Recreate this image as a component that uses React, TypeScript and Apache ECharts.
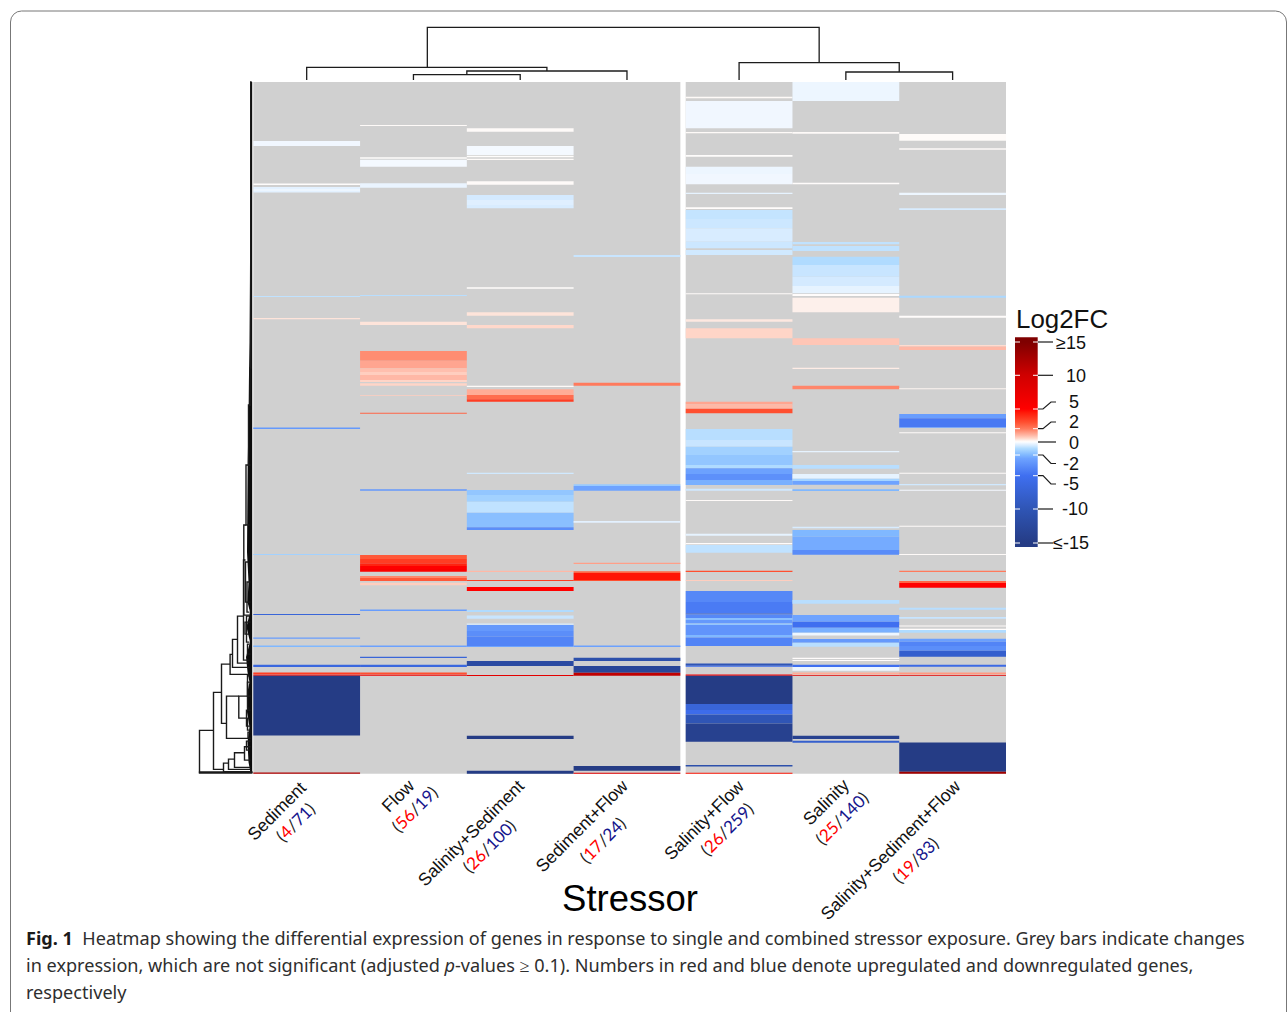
import React, { useEffect, useRef } from "react";
import * as echarts from "echarts";

// ---------- Data ----------
const stressors = ["Sediment", "Flow", "Salinity+Sediment", "Sediment+Flow", "Salinity+Flow", "Salinity", "Salinity+Sediment+Flow"];
const upCounts = [4, 56, 26, 17, 26, 25, 19];
const downCounts = [71, 19, 100, 24, 259, 140, 83];
const rowCount = 691.6;
const gapAfterFourth = 0.05;

// bands: [first gene row, last gene row, Log2FC]
const sediment = [[59,64,-0.15],[101.5,103,0.06],[105,107,-0.35],[107,109,-0.2],[109,110.5,-0.35],[214,215,-0.8],[236,237.2,0.4],[345.5,347,-3],[472,473,-1.3],[532,533,-7],[555.5,556.7,-2.8],[563.5,565,-2],[582.7,585,-6.5],[590.3,592.3,3.5],[592.7,593.7,7],[593.7,653.3,-15],[690.3,691.6,12]];
const flow = [[43,44,0.1],[75.3,76.7,0.06],[77.7,84.7,-0.1],[101.3,105.7,-0.25],[213,214,-0.9],[239.7,243,0.4],[269,278.7,1.7],[278.7,286.3,1.3],[286.3,290,0.9],[290,293,0.7],[293,298,1],[298,300,0.6],[301.3,303.7,0.6],[313,313.7,0.7],[330.7,331.7,2.5],[407.3,408.7,-3],[473,477,2.8],[477,481.3,3.5],[481.3,484,4.2],[484,487,5],[487,489.7,5.5],[494,496,1.8],[496,499,2.8],[500.7,503.3,0.7],[527.3,529,-2.8],[563.5,565,-2.6],[574.7,576,-7],[582.7,585,-6.5],[590.3,592.3,3],[592.7,593.7,7]];
const salinitySediment = [[46.3,49.7,0.1],[64,73,-0.1],[73.7,75.3,0.04],[76.7,78,0.08],[99.3,102.7,0.1],[113,118,-0.55],[118,123,-0.4],[123,126.3,-0.5],[205.3,206.7,0.05],[230.3,233.7,0.4],[243,246.3,0.55],[303.7,305,0.1],[307.3,313,1.2],[313,317.3,2.3],[317.3,319.7,3.5],[390.7,392,-0.6],[408,413,-1.6],[413,419.7,-1.3],[419.7,430.7,-0.8],[430.7,445.3,-1.8],[445.3,448,-3.5],[488.7,490,1],[498,499,3.5],[505,509,5],[528,530,-1],[533.3,536.7,-0.7],[541.3,542.7,-0.5],[543,549,-3],[549,554.7,-3.5],[554.7,564,-4],[564,565,-2.5],[579,584,-12],[593,594,8],[653.7,657,-15],[688.7,691.6,-15]];
const sedimentFlow = [[173,175,-0.7],[300.7,303.7,2],[402.3,404,-1.5],[404,408.7,-2.5],[439,440.7,-0.35],[480.7,482,1.4],[489.3,491,2.5],[491,498.7,4.6],[498,499,3],[563.5,565,-2.6],[575.7,579,-11],[584,590.7,-13],[590.7,593.7,11],[684,688.7,-15],[690.7,691.6,8]];
const salinityFlow = [[14.7,16.3,0.1],[19,46.3,-0.15],[50,51.3,0.1],[73,74.7,0.06],[84.7,92,-0.2],[92,102.3,-0.15],[110.7,112,-0.3],[125.3,127,0.05],[128,137,-0.75],[137,146.3,-0.65],[146.3,159.7,-0.5],[159.7,166.3,-0.65],[168,173,-0.6],[211.3,212.3,0.1],[237.3,239.7,0.35],[246.3,256.3,0.6],[319.7,322.3,1.3],[322.3,326.7,1],[326.7,331.3,3],[347,358,-0.9],[358,364.7,-0.7],[364.7,373,-1.3],[373,383,-1.6],[383,386.3,-1],[386.3,392,-2.6],[392,398,-3.4],[398,403,-2.2],[406.7,408.7,-0.6],[418,419,0.1],[451.7,453.7,-0.3],[461,462.3,0.05],[463,470.7,-0.8],[488.7,490,3],[498,499,0.7],[509,520,-3.8],[520,531.3,-4.4],[531.3,532.3,-9],[532.3,536,-3.8],[536,538,-1.8],[538,541.3,-3],[541.3,543,-1.6],[543,553,-3.2],[553,555.3,-2],[555.3,564,-4],[581.3,583.7,-10],[583.7,584.7,-5],[592.3,593.7,6],[593.7,622,-15],[622,628,-7],[628,632.3,-5.5],[632.3,641.3,-10],[641.3,659.7,-14],[683,684.3,-11],[690.7,691.6,4.5]];
const salinity = [[0,19,-0.2],[50,51.7,0.1],[100.7,102.3,0.05],[160,162.3,-0.8],[164,169,-0.8],[174.7,183,-1],[183,194.7,-0.7],[194.7,204,-0.55],[204,211.3,-0.3],[212,214,0.05],[215.7,230.3,0.25],[256.3,263,0.8],[285.7,287,0.3],[303.7,307.3,1.8],[369,370.3,-0.3],[383,386.7,-0.9],[392,396.7,-0.3],[396.7,399,-1.2],[399,402.7,-2.5],[407.3,409,-2],[444.7,446.3,-0.5],[448,454.7,-2],[454.7,468,-2.3],[468,472.7,-3.6],[518,521.7,-0.9],[533,539.7,-2.5],[539.7,545.7,-5],[545.7,550.7,-2.2],[550.7,553.3,-0.2],[557,560.7,-3],[560.7,564.7,-0.9],[575.7,577,0.05],[578,579,0.05],[582.7,585,-5],[585,588.7,-0.2],[590.3,592.3,1.2],[593,593.7,8],[653.7,657,-14],[658.7,660.7,-8]];
const salinitySedimentFlow = [[52,58.7,0.08],[66.3,67.7,0.1],[110.7,113,-0.2],[126.3,128,-0.5],[213.7,215.7,-1.1],[233.7,235.7,0.05],[263,264.5,0.5],[264.5,268,1],[306.3,307.3,0.2],[332,336.3,-2.8],[336.3,345.3,-4.5],[345.3,346,-2.5],[350.3,351.3,0.1],[390.7,391.7,0.1],[402,403.3,-0.6],[407.7,408.7,-0.1],[443.7,444.7,0.1],[472,473,0.1],[488.7,490,2],[499,501,2.5],[501,505.7,5],[525.7,527.7,-0.9],[535,536.7,-0.7],[543.3,544.3,0.1],[546.7,548,0.05],[548,550.7,-1],[556.7,559.7,-2.7],[559.7,564,-4],[564,568.7,-3.5],[568.7,574.7,-8],[582.7,584.7,-6],[590.3,592.3,1.5],[593,593.7,8],[660.3,689.7,-15],[689.7,691.6,13]];
const columnBands = [sediment, flow, salinitySediment, sedimentFlow, salinityFlow, salinity, salinitySedimentFlow];
const notSignificantColor = "#d0d0d0";
// blocks of adjacent columns that share one grey ground: [first column, column count]
const columnBlocks = [[0, 4], [4, 3]];

// Log2FC colour scale
const scaleValues = [-15,-10,-5,-2.5,-2,-1,-0.5,-0.1,0,0.2,0.5,1,2,3,4.5,5,10,15];
const scaleColors = ["#253c85","#2f55b5","#3f6ff0","#6ea3ff","#80b8ff","#b0dbff","#d8ecff","#f4f9ff","#ffffff","#fdf4f0","#ffdccf","#ffb8a6","#ff7a5c","#ff4f30","#ff1808","#ff0000","#d00000","#7f0000"];

// Legend ticks
const legendTickValues = [15,10,5,2,0,-2,-5,-10,-15];
const legendTickLabels = ["≥15","10","5","2","0","-2","-5","-10","≤-15"];
const legendTickY = [342,375.3,409,428.7,442,455,475.7,509,543];
const legendLabelX = [1071,1076,1074,1074,1074,1071,1071,1075,1071];
const legendLabelY = [342.5,376,402,422,443,463.5,484,509,543];

// Column dendrogram: [left x, left height, right x, right height, join height]
const columnTree = [
  [1.5,0,2.5,0,5.3],[2,5.3,3.5,0,9],[0.5,0,2.75,9,12.7],
  [5.55,0,6.55,0,8],[4.55,0,6.05,8,17.3],[1.63,12.7,5.3,17.3,52.7],
];
// Row dendrogram: [top row, top depth, bottom row, bottom depth, join depth]
const rowTree = [
  [648.3,39,690,0,53],[610.3,31,687.3,29,39],[582,22.4,641.3,26,31],[572.3,20,592.3,4,22.4],[557.3,15,585.3,3,20],
  [534,9,581,4,15],[478,7,578,3,9],[443,6.5,533,3,8.7],[383,4,443,3,6.5],[323,2.5,383,2,4],[286,1.8,323,1.5,2.5],[0,0.8,286,1,1.8],
  [614,13.7,656.3,2,26],[614,5,636,6,13.7],[681,24,689.7,1,29],[677,18,687.3,2,24],[670.7,8,685.3,2,18],[664.7,2,678,2,8],
  [480,4,520,2,7],[534,3,560,3,6],[562,3,572,2,5],[593.7,3,614,2,5],[636,3,648,2,5],[650,2,656,2,4.5],[600,2,626,3,5],[628,2,644,2,6],
  [540,2,552,3,7.5],[500,2,530,3,5.5],[690,0,691,0,53],[659,2,668,3,6],
];
// Dense fringe of leaf joins: [row, depth]
const rowFringe = [[0,2],[120,2.2],[200,2.6],[260,3],[300,3.6],[340,4],[380,4.8],[430,5.2],[470,5.5],[500,4],[520,5],[530,2.5],[545,6],[560,2.5],[575,6.5],[590,5],[600,3],[610,5],[630,5.5],[645,3],[660,5],[680,4],[691,2]];

const captionLines = [
  "{b|Fig. 1}  Heatmap showing the differential expression of genes in response to single and combined stressor exposure. Grey bars indicate changes",
  "in expression, which are not significant (adjusted {i|p}-values ≥ 0.1). Numbers in red and blue denote upregulated and downregulated genes,",
  "respectively",
];

// ---------- Layout ----------
const nameCentres = [[276.7,811],[398,796],[471,833],[581.7,826],[704,820],[826,802],[890.5,850]];
const countCentres = [[295.3,822],[414.5,809],[489,846],[602.5,840],[726.7,829],[841.7,818],[915.3,860]];
const HEAT = { left: 253.3, top: 82, width: 752.7, height: 691.7 };

function hexToRgb(h: string) {
  return [parseInt(h.slice(1, 3), 16), parseInt(h.slice(3, 5), 16), parseInt(h.slice(5, 7), 16)];
}
function colourFor(v: number) {
  const x = Math.max(-15, Math.min(15, v));
  for (let i = 0; i < scaleValues.length - 1; i++) {
    if (x <= scaleValues[i + 1]) {
      const t = (x - scaleValues[i]) / (scaleValues[i + 1] - scaleValues[i]);
      const a = hexToRgb(scaleColors[i]);
      const b = hexToRgb(scaleColors[i + 1]);
      return `rgb(${a.map((c, k) => Math.round(c + (b[k] - c) * t)).join(",")})`;
    }
  }
  return scaleColors[scaleColors.length - 1];
}
function legendY(v: number) {
  for (let i = 0; i < legendTickValues.length - 1; i++) {
    const a = legendTickValues[i];
    const b = legendTickValues[i + 1];
    if (v <= a && v >= b) return legendTickY[i] + ((a - v) / (a - b)) * (legendTickY[i + 1] - legendTickY[i]);
  }
  return 442;
}
const colLeft = (i: number) => (i < 4 ? i : i + gapAfterFourth);

const BAR = { x: 1015, y: 337.3, w: 22.7, h: 209.7 };

function buildGraphics() {
  const g: any[] = [];
  // card outline
  g.push({ type: "rect", z: 0, shape: { x: 10.5, y: 11, width: 1276, height: 1030, r: 11 }, style: { fill: "none", stroke: "#777", lineWidth: 1 } });

  // colour bar
  const stops = scaleValues.map((v, i) => ({ offset: Math.min(1, Math.max(0, (legendY(v) - BAR.y) / BAR.h)), color: scaleColors[i] })).reverse();
  g.push({ type: "rect", shape: { x: BAR.x, y: BAR.y, width: BAR.w, height: BAR.h }, style: { fill: new echarts.graphic.LinearGradient(0, 0, 0, 1, stops) } });
  legendTickValues.forEach((v, i) => {
    const y = legendTickY[i];
    if (v !== 0) {
      g.push({ type: "line", shape: { x1: BAR.x, y1: y, x2: BAR.x + 5, y2: y }, style: { stroke: "#fff", lineWidth: 1 } });
      g.push({ type: "line", shape: { x1: BAR.x + 18, y1: y, x2: BAR.x + 23, y2: y }, style: { stroke: "#fff", lineWidth: 1 } });
    }
    const ly = legendLabelY[i];
    const bend = Math.abs(v) === 2 || Math.abs(v) === 5;
    const pts = bend
      ? [[1038, y], [1043, y], [1051, ly], [1056, ly]]
      : [[1038, y], [v === 0 ? 1056 : 1053, y]];
    g.push({ type: "polyline", shape: { points: pts }, style: { stroke: "#1c1c1c", lineWidth: 1.2, fill: "none" } });
    g.push({
      type: "text", x: legendLabelX[i], y: ly,
      style: { text: legendTickLabels[i], fill: "#111", font: '18px "Liberation Sans"', align: "center", verticalAlign: "middle" },
    });
  });
  g.push({ type: "text", x: 1016, y: 319, style: { text: "Log2FC", fill: "#111", font: '25.9px "Liberation Sans"', align: "left", verticalAlign: "middle" } });
  g.push({ type: "text", x: 630, y: 898.3, style: { text: "Stressor", fill: "#000", font: '36.5px "Liberation Sans"', align: "center", verticalAlign: "middle" } });

  // column labels
  stressors.forEach((s, i) => {
    g.push({
      type: "text", x: nameCentres[i][0], y: nameCentres[i][1], rotation: Math.PI / 4,
      style: { text: s, fill: "#111", font: '17.6px "Liberation Sans"', align: "center", verticalAlign: "middle" },
    });
    g.push({
      type: "text", x: countCentres[i][0], y: countCentres[i][1], rotation: Math.PI / 4,
      style: {
        text: `({r|${upCounts[i]}}/{n|${downCounts[i]}})`,
        fill: "#222", font: '17px Lato', align: "center", verticalAlign: "middle",
        rich: { r: { fill: "#ff0000", font: "17px Lato" }, n: { fill: "#14148c", font: "17px Lato" } },
      },
    });
  });

  // caption
  captionLines.forEach((t, i) => {
    g.push({
      type: "text", x: 26, y: 937.7 + i * 27,
      style: {
        text: t, fill: "#2e2e2e", font: '18.1px "Noto Sans"', align: "left", verticalAlign: "middle",
        rich: {
          b: { font: 'bold 18.1px "Noto Sans"', fill: "#1a1a1a" },
          i: { font: 'italic 18.1px "Noto Sans"', fill: "#2e2e2e" },
        },
      },
    });
  });
  return g;
}

function heatData() {
  const out: any[] = [];
  columnBlocks.forEach((b) => out.push([b[0], 0, rowCount, null, b[1]]));
  columnBands.forEach((bands, c) => {
    bands.forEach((b) => out.push([c, b[0], b[1], b[2], 1]));
  });
  return out;
}

function buildOption() {
  return {
    animation: false,
    backgroundColor: "#fff",
    grid: [
      { left: HEAT.left, top: HEAT.top, width: HEAT.width, height: HEAT.height },
      { left: HEAT.left, top: 27.3, width: HEAT.width, height: 52.7 },
      { left: 197.5, top: HEAT.top, width: 55, height: HEAT.height },
    ],
    xAxis: [
      { type: "value", gridIndex: 0, min: 0, max: 7 + gapAfterFourth, show: false },
      { type: "value", gridIndex: 1, min: 0, max: 7 + gapAfterFourth, show: false },
      { type: "value", gridIndex: 2, min: 0, max: 55, inverse: true, show: false },
    ],
    yAxis: [
      { type: "value", gridIndex: 0, min: 0, max: rowCount, inverse: true, show: false },
      { type: "value", gridIndex: 1, min: 0, max: 52.7, show: false },
      { type: "value", gridIndex: 2, min: 0, max: rowCount, inverse: true, show: false },
    ],
    series: [
      {
        type: "custom", xAxisIndex: 0, yAxisIndex: 0, clip: false, silent: true,
        data: heatData(),
        encode: { x: 0, y: 1 },
        renderItem: (_p: any, api: any) => {
          const c = api.value(0);
          const raw = api.value(3);
          const a = api.coord([colLeft(c), api.value(1)]);
          const b = api.coord([colLeft(c) + api.value(4), api.value(2)]);
          const fill = raw == null || Number.isNaN(raw) ? notSignificantColor : colourFor(raw);
          return { type: "rect", shape: { x: a[0], y: a[1], width: b[0] - a[0], height: b[1] - a[1] }, style: { fill } };
        },
      },
      {
        type: "custom", xAxisIndex: 1, yAxisIndex: 1, clip: false, silent: true,
        data: columnTree,
        encode: { x: 0, y: 1 },
        renderItem: (_p: any, api: any) => {
          const [x1, h1, x2, h2, h] = [0, 1, 2, 3, 4].map((k) => api.value(k));
          const pts = [api.coord([x1, h1]), api.coord([x1, h]), api.coord([x2, h]), api.coord([x2, h2])];
          return { type: "polyline", shape: { points: pts }, style: { stroke: "#1c1c1c", lineWidth: 1.3, fill: "none" } };
        },
      },
      {
        type: "custom", xAxisIndex: 2, yAxisIndex: 2, clip: false, silent: true,
        data: [rowFringe.map((p) => p[0])],
        encode: { x: 0 },
        renderItem: (_p: any, api: any) => {
          const pts = rowFringe.map((p) => api.coord([p[1], p[0]]));
          const back = [api.coord([0.3, rowFringe[rowFringe.length - 1][0]]), api.coord([0.3, 0])];
          return { type: "polygon", shape: { points: pts.concat(back) }, style: { fill: "#0c0c0c" } };
        },
      },
      {
        type: "custom", xAxisIndex: 2, yAxisIndex: 2, clip: false, silent: true,
        data: rowTree,
        encode: { x: 1, y: 0 },
        renderItem: (_p: any, api: any) => {
          const [r1, d1, r2, d2, d] = [0, 1, 2, 3, 4].map((k) => api.value(k));
          const pts = [api.coord([d1, r1]), api.coord([d, r1]), api.coord([d, r2]), api.coord([d2, r2])];
          return { type: "polyline", shape: { points: pts }, style: { stroke: "#1a1a1a", lineWidth: 1.4, fill: "none" } };
        },
      },
    ],
    graphic: buildGraphics(),
  };
}

export default function App() {
  const ref = useRef<HTMLDivElement>(null);
  useEffect(() => {
    if (!ref.current) return;
    const chart = echarts.init(ref.current, undefined, { renderer: "svg" });
    chart.setOption(buildOption() as any);
    return () => chart.dispose();
  }, []);
  return <div ref={ref} style={{ position: "absolute", left: 0, top: 0, width: 1287, height: 1012, overflow: "hidden" }} />;
}
